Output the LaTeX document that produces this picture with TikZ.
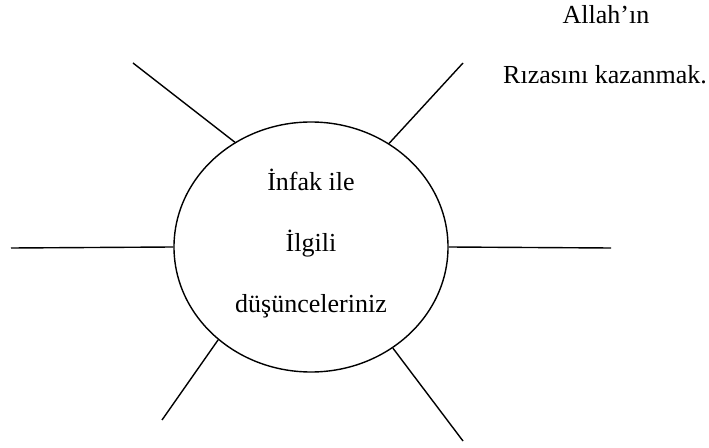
\documentclass[tikz,border=0pt]{standalone}
\usepackage{fontspec}
\setmainfont{Liberation Serif}
\usetikzlibrary{shapes.geometric}

\tikzset{
  ray/.style={line width=1.4bp},
  bigtext/.style={anchor=base, inner sep=0pt, font=\fontsize{26bp}{30bp}\selectfont}
}

\begin{document}
\begin{tikzpicture}[x=1bp, y=-1bp]
\useasboundingbox (0,0) rectangle (709,448);

\node[draw, ellipse, line width=1.4bp, minimum width=274bp, minimum height=250bp, inner sep=0pt] (idea) at (311,247) {};

\node[bigtext] (l1) at (311,191) {İnfak ile};
\node[bigtext] (l2) at (311,252) {İlgili};
\node[bigtext] (l3) at (311,313) {düşünceleriniz};

\node[bigtext] (a1) at (606,24) {Allah’ın};
\node[bigtext] (a2) at (605,84) {Rızasını kazanmak.};

% free ends of the rays
\coordinate (tl) at (133,63);
\coordinate (tr) at (463,63);
\coordinate (le) at (11,248);
\coordinate (ri) at (611,248);
\coordinate (bl) at (162,420);
\coordinate (br) at (463,441);

\draw[ray] (idea.126.6) -- (tl);
\draw[ray] (idea.53) -- (tr);
\draw[ray] (idea.180) -- (le);
\draw[ray] (idea.0) -- (ri);
\draw[ray] (idea.-135.6) -- (bl);
\draw[ray] (idea.-51.3) -- (br);
\end{tikzpicture}
\end{document}
